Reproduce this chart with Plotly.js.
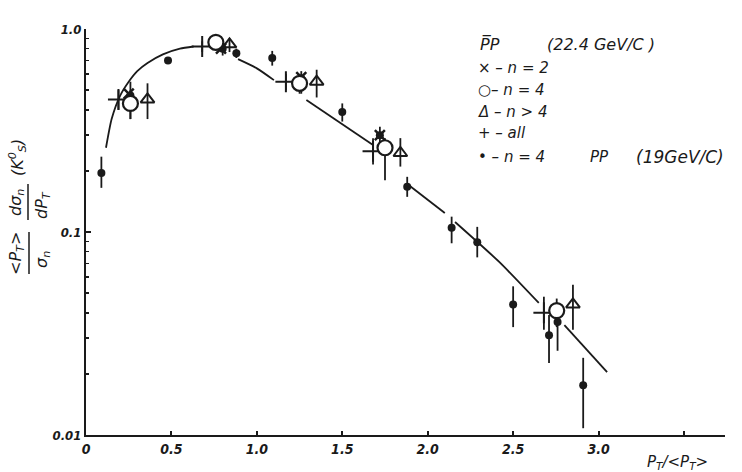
<!DOCTYPE html>
<html>
<head>
<meta charset="utf-8">
<script src="https://cdn.plot.ly/plotly-3.0.1.min.js"></script>
<style>html,body{margin:0;padding:0;background:#fff;}#chart{width:742px;height:472px;}</style>
</head>
<body>
<div id="chart"></div>
<script>
// ---- data ----
// filled dots: n=4, pp (19 GeV/c)
const dotX  = [0.09, 0.26, 0.48, 0.80, 0.88, 1.09, 1.26, 1.50, 1.72, 1.88, 2.14, 2.29, 2.50, 2.71, 2.76, 2.91];
const dotY  = [0.195, 0.47, 0.70, 0.80, 0.76, 0.72, 0.57, 0.39, 0.30, 0.167, 0.105, 0.089, 0.044, 0.031, 0.036, 0.0176];
const dotHi = [0.235, 0.55, 0.70, 0.85, 0.80, 0.78, 0.62, 0.43, 0.33, 0.187, 0.119, 0.106, 0.054, 0.039, 0.040, 0.024];
const dotLo = [0.165, 0.36, 0.70, 0.74, 0.72, 0.66, 0.48, 0.35, 0.27, 0.149, 0.088, 0.075, 0.034, 0.0226, 0.026, 0.0108];
// open circles: n=4 (pbar p 22.4 GeV/c)
const circX  = [0.26, 0.76, 1.25, 1.75, 2.755];
const circY  = [0.43, 0.86, 0.54, 0.26, 0.041];
const circHi = [0.50, 0.92, 0.60, 0.29, 0.047];
const circLo = [0.36, 0.80, 0.48, 0.18, 0.034];
// open triangles: n>4
const triX  = [0.36, 0.84, 1.35, 1.84, 2.85];
const triY  = [0.45, 0.84, 0.55, 0.245, 0.044];
const triHi = [0.54, 0.90, 0.63, 0.29, 0.055];
const triLo = [0.36, 0.77, 0.46, 0.21, 0.033];
// plus: all
const plusX  = [0.19, 0.68, 1.17, 1.68, 2.68];
const plusY  = [0.45, 0.82, 0.55, 0.25, 0.040];
const plusHi = [0.50, 0.87, 0.60, 0.29, 0.048];
const plusLo = [0.40, 0.77, 0.50, 0.215, 0.033];
// crosses: n=2
const crossX = [0.25, 0.79, 1.26, 1.72];
const crossY = [0.48, 0.80, 0.58, 0.30];
// hand-drawn curve (gaps where it passes behind the points)
const curveX = [0.117, 0.15, 0.2, 0.25, 0.3, 0.36, 0.45, 0.55, 0.63, null, 0.89, 1.0, 1.1, null, 1.29, 1.68, null, 1.89, 2.10, null, 2.16, 2.42, 2.65, null, 2.80, 3.05];
const curveY = [0.26, 0.36, 0.47, 0.55, 0.62, 0.68, 0.75, 0.80, 0.82, null, 0.71, 0.64, 0.56, null, 0.447, 0.268, null, 0.17, 0.124, null, 0.112, 0.071, 0.0447, null, 0.0348, 0.0204];
// axis ticks
const xTickVals = [0, 0.5, 1.0, 1.5, 2.0, 2.5, 3.0];
const xTickText = ['0', '0.5', '1.0', '1.5', '2.0', '2.5', '3.0'];
const xExtraTick = [3.5];
const yTickVals = [0.01, 0.1, 1];
const yTickText = ['0.01', '0.1', '1.0'];
// legend text lines
const legendHead = ['P\u0305P', '(22.4 GeV/C )'];
const legendRows = ['\u00d7 \u2013 n = 2', '\u25cb\u2013 n = 4', '\u0394 \u2013 n > 4', '+ \u2013 all', '\u2022 \u2013 n = 4'];
const legendTail = ['PP', '(19GeV/C)'];

const INK = '#1a1a1a';
const FONT = {family: 'DejaVu Sans, sans-serif', size: 15, color: INK, style: 'italic'};
const TICKFONT = {family: 'DejaVu Sans Condensed, DejaVu Sans, sans-serif', size: 14, color: INK, style: 'italic', weight: 'bold'};
const f = (o) => Object.assign({}, FONT, o || {});
const up = (hi, y) => hi.map((h, i) => Math.max(0, h - y[i]));
const dn = (lo, y) => lo.map((l, i) => Math.max(0, y[i] - l));
const ebar = (hi, lo, y) => ({type: 'data', symmetric: false, array: up(hi, y), arrayminus: dn(lo, y), color: INK, thickness: 1.8, width: 0});

const traces = [
  {x: curveX, y: curveY, mode: 'lines', line: {color: INK, width: 1.8, shape: 'spline', smoothing: 0.6}, connectgaps: false, hoverinfo: 'skip'},
  {x: dotX, y: dotY, mode: 'markers', marker: {symbol: 'circle', size: 8, color: INK}, error_y: ebar(dotHi, dotLo, dotY)},
  {x: plusX, y: plusY, mode: 'markers', marker: {symbol: 'cross-thin-open', size: 15, color: INK, line: {color: INK, width: 2}}, error_y: ebar(plusHi, plusLo, plusY)},
  {x: crossX, y: crossY, mode: 'markers', marker: {symbol: 'x-thin-open', size: 10, color: INK, line: {color: INK, width: 2.5}}},
  {x: triX, y: triY, mode: 'markers', marker: {symbol: 'triangle-up-open', size: 12, color: INK, line: {color: INK, width: 2}}, error_y: ebar(triHi, triLo, triY)},
  {x: circX, y: circY, mode: 'markers', marker: {symbol: 'circle', size: 15, color: '#fff', line: {color: INK, width: 2.2}}, error_y: ebar(circHi, circLo, circY)}
];

const L = 86, R = 725, T = 29, B = 435;
const px = v => (v - L) / (R - L);
const py = v => (B - v) / (B - T);

const ann = [];
const addText = (text, x, y, opts) => ann.push(Object.assign({text: text, xref: 'paper', yref: 'paper', x: px(x), y: py(y), showarrow: false, font: FONT, xanchor: 'left', yanchor: 'middle'}, opts || {}));

addText(legendHead[0], 478, 45, {font: f({size: 16})});
addText(legendHead[1], 545, 45, {font: f({size: 16})});
const rowY = [68, 90, 112, 133, 157];
legendRows.forEach((t, i) => addText(t, 476, rowY[i], {font: f({size: 15})}));
addText(legendTail[0], 588, 157, {font: f({size: 15})});
addText(legendTail[1], 634, 157, {font: f({size: 17})});

// x-axis title
addText('P<sub>T</sub>/&lt;P<sub>T</sub>&gt;', 645, 462, {font: f({size: 15})});
// y-axis title built as two stacked fractions (rotated)
const rot = {textangle: -90, xanchor: 'center', yanchor: 'middle'};
addText('&lt;P<sub>T</sub>&gt;', 16, 254, Object.assign({font: f({size: 16})}, rot));
addText('\u03c3<sub>n</sub>', 42, 260, Object.assign({font: f({size: 16})}, rot));
addText('d\u03c3<sub>n</sub>', 16, 203, Object.assign({font: f({size: 16})}, rot));
addText('dP<sub>T</sub>', 42, 205, Object.assign({font: f({size: 16})}, rot));
addText('(K<sup>0</sup><sub>S</sub>)', 17, 158, Object.assign({font: f({size: 16})}, rot));

const shapes = [
  {type: 'line', xref: 'paper', yref: 'paper', x0: px(29), x1: px(29), y0: py(232), y1: py(274), line: {color: INK, width: 1.5}},
  {type: 'line', xref: 'paper', yref: 'paper', x0: px(28), x1: px(28), y0: py(184), y1: py(220), line: {color: INK, width: 1.5}}
];
// unlabelled axis tick(s) beyond the last label
xExtraTick.forEach(v => shapes.push({type: 'line', xref: 'x', yref: 'paper', x0: v, x1: v, y0: 0, y1: 4 / (B - T), line: {color: INK, width: 2}}));

const layout = {
  width: 742, height: 472,
  margin: {l: L, r: 742 - R, t: T, b: 472 - B, pad: 0},
  paper_bgcolor: '#ffffff', plot_bgcolor: '#ffffff',
  showlegend: false,
  font: FONT,
  xaxis: {
    range: [0, 3.74], showline: true, linecolor: INK, linewidth: 2, mirror: false,
    ticks: 'inside', ticklen: 4, tickwidth: 2, tickcolor: INK,
    tickvals: xTickVals, ticktext: xTickText, showgrid: false, zeroline: false,
    tickfont: TICKFONT, fixedrange: true
  },
  yaxis: {
    type: 'log', range: [-2, 0], showline: true, linecolor: INK, linewidth: 2,
    ticks: 'inside', ticklen: 5, tickwidth: 2, tickcolor: INK,
    tickvals: yTickVals, ticktext: yTickText, showgrid: false, zeroline: false,
    minor: {dtick: 'D1', ticks: 'inside', ticklen: 3, tickwidth: 1.5, tickcolor: INK, showgrid: false},
    tickfont: Object.assign({}, TICKFONT, {size: 13}), fixedrange: true
  },
  annotations: ann,
  shapes: shapes
};

Plotly.newPlot('chart', traces, layout, {displayModeBar: false, staticPlot: true});
</script>
</body>
</html>
